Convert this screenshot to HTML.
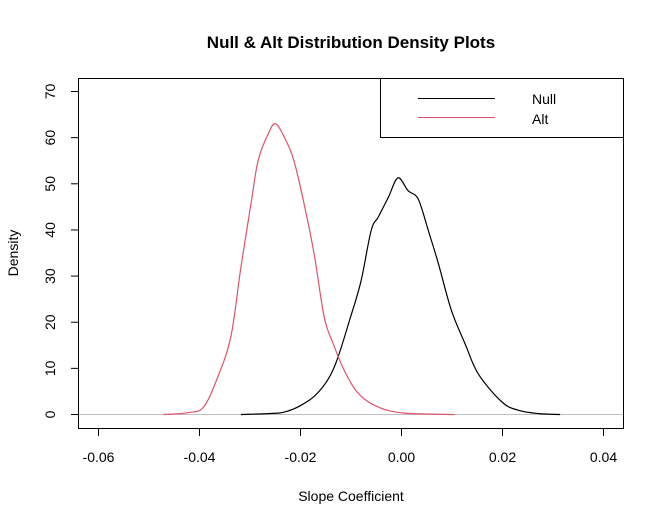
<!DOCTYPE html>
<html><head><meta charset="utf-8"><style>
body{margin:0;background:#fff;}
svg text{font-family:"Liberation Sans",Arial,sans-serif;}
</style></head><body>
<svg width="664" height="526" viewBox="0 0 664 526">
<text x="351" y="48" text-anchor="middle" font-size="17" font-weight="bold">Null &amp; Alt Distribution Density Plots</text>
<text x="351" y="501" text-anchor="middle" font-size="14">Slope Coefficient</text>
<text transform="translate(18,253) rotate(-90)" text-anchor="middle" font-size="14">Density</text>
<rect x="78.5" y="78.5" width="545" height="350" fill="none" stroke="#000"/>
<g id="xaxis"></g>
<g id="yaxis"></g>
<line x1="79" x2="623" y1="414.5" y2="414.5" stroke="#bebebe"/>
<g id="series"></g>
<g>
<rect x="380.5" y="78.5" width="243" height="59" fill="#fff" stroke="#000"/>
<line x1="418" x2="495" y1="98.5" y2="98.5" stroke="#000"/>
<text x="532" y="104" font-size="14">Null</text>
<line x1="418" x2="495" y1="117.5" y2="117.5" stroke="#df536b"/>
<text x="532" y="124" font-size="14">Alt</text>
</g>
</svg>
<script>
const xTicks=[-0.06,-0.04,-0.02,0.00,0.02,0.04];
const xTickLabels=["-0.06","-0.04","-0.02","0.00","0.02","0.04"];
const yTicks=[0,10,20,30,40,50,60,70];
const altX=[-0.0471,-0.0423,-0.0392,-0.0364,-0.0338,-0.0318,-0.0298,-0.0284,-0.0264,-0.0249,-0.0229,-0.0213,-0.0193,-0.0173,-0.0153,-0.0135,-0.0113,-0.0085,-0.0046,0.0006,0.0105];
const altY=[0,0.4,1.6,8.1,16.8,31.9,45.7,55,60.8,63,59.4,55,45.7,34.8,21.1,15.3,9.5,4.5,1.6,0.3,0];
const nullX=[-0.0318,-0.0264,-0.0233,-0.0199,-0.0165,-0.0133,-0.0099,-0.0080,-0.0060,-0.0046,-0.0026,-0.0007,0.0013,0.0033,0.0053,0.0073,0.0099,0.0126,0.0152,0.0199,0.0232,0.0272,0.0314];
const nullY=[0,0.2,0.5,2.0,4.8,10.3,21.8,29,39.9,42.8,47.1,51.3,48.5,46.7,39.9,32.7,22.5,15.3,8.8,2.7,0.9,0.2,0];
const NS="http://www.w3.org/2000/svg";
const sx=v=>98.5+(v+0.06)*5050;
const sy=v=>414.5-v*4.614;
function mk(t,a,p){const e=document.createElementNS(NS,t);for(const k in a)e.setAttribute(k,a[k]);p.appendChild(e);return e;}
const xa=document.getElementById('xaxis');
xTicks.forEach((v,i)=>{
 const l=mk('line',{x1:sx(v),x2:sx(v),y1:428.5,y2:436,stroke:'#000'},xa);
 
 
 const t=mk('text',{x:sx(v),y:462,'text-anchor':'middle','font-size':14},xa);
 t.textContent=xTickLabels[i];
 
 
});
const ya=document.getElementById('yaxis');
yTicks.forEach(v=>{
 const l=mk('line',{x1:71,x2:78.5,y1:sy(v),y2:sy(v),stroke:'#000'},ya);
 
 
 const t=mk('text',{transform:`translate(55,${sy(v)}) rotate(-90)`,'text-anchor':'middle','font-size':14},ya);
 t.textContent=String(v);
 
 
});
const sg=document.getElementById('series');
function line(xs,ys,col,name){
 const P=xs.map((x,i)=>[sx(x),sy(ys[i])]);
 let d='M'+P[0][0].toFixed(1)+','+P[0][1].toFixed(1);
 for(let i=0;i<P.length-1;i++){
  const p0=P[Math.max(0,i-1)],p1=P[i],p2=P[i+1],p3=P[Math.min(P.length-1,i+2)];
  const c1=[p1[0]+(p2[0]-p0[0])/6,p1[1]+(p2[1]-p0[1])/6];
  const c2=[p2[0]-(p3[0]-p1[0])/6,p2[1]-(p3[1]-p1[1])/6];
  d+='C'+c1[0].toFixed(1)+','+c1[1].toFixed(1)+' '+c2[0].toFixed(1)+','+c2[1].toFixed(1)+' '+p2[0].toFixed(1)+','+p2[1].toFixed(1);
 }
 const p=mk('path',{d:d,fill:'none',stroke:col,'stroke-width':1.2,'stroke-linejoin':'round'},sg);
 
 
}
line(nullX,nullY,'#000','null-density-line');
line(altX,altY,'#df536b','alt-density-line');
</script>
</body></html>
